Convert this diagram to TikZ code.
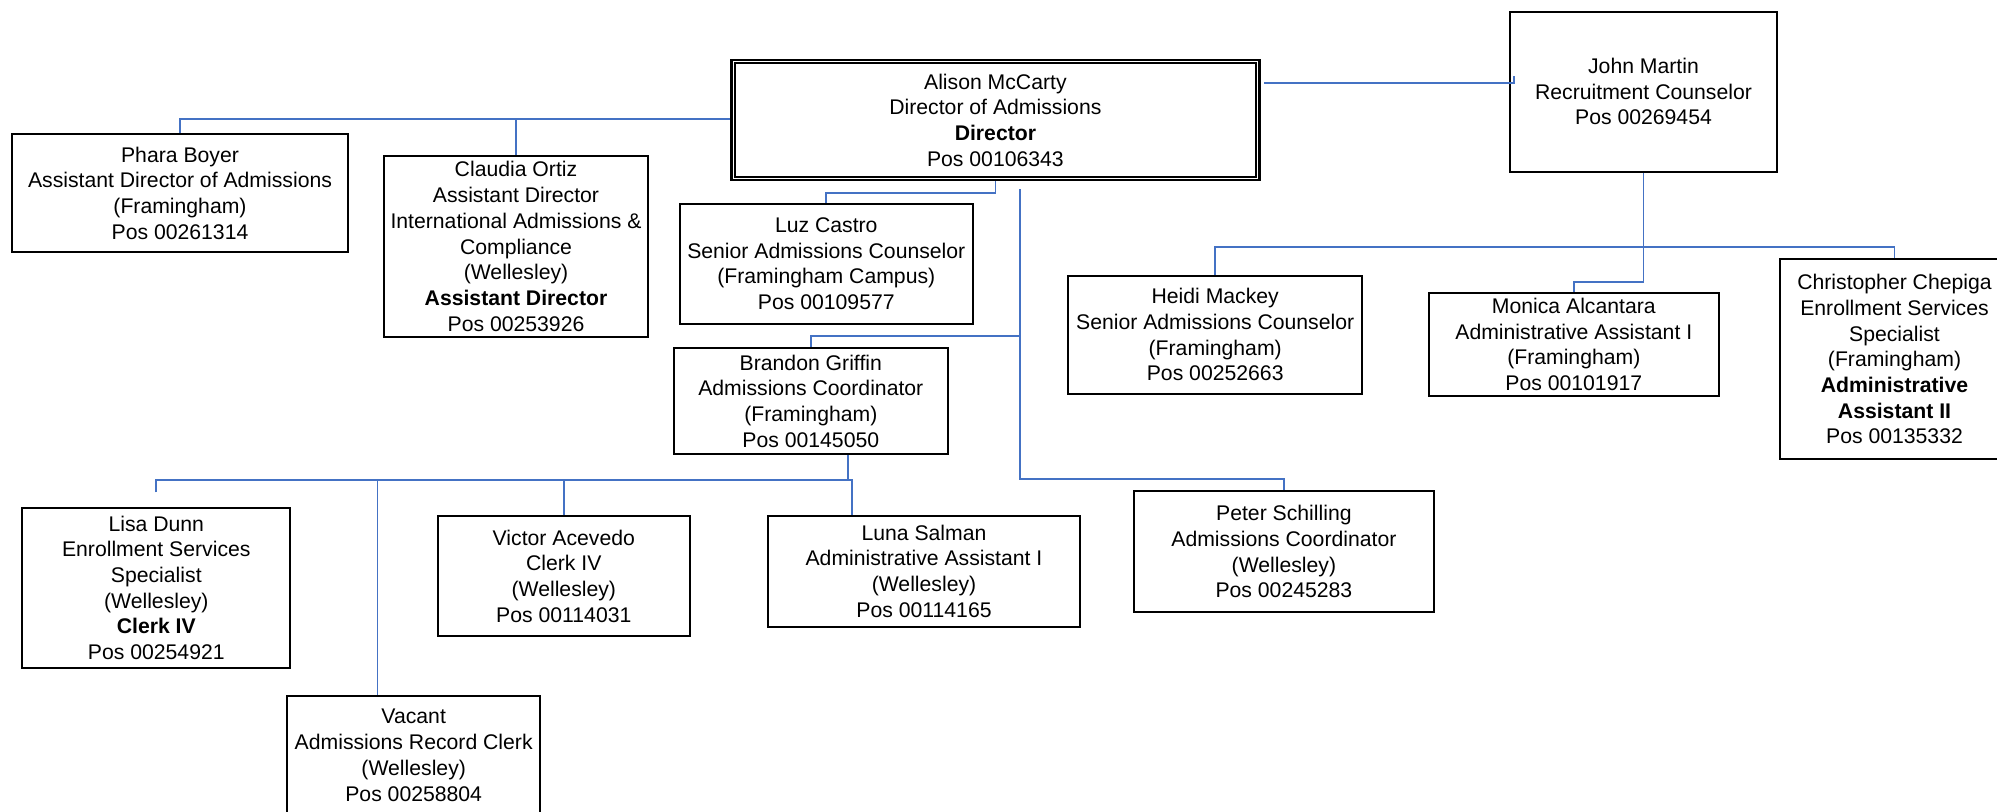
\documentclass[tikz,border=0pt]{standalone}
\usepackage{fontspec}
\setmainfont{Liberation Sans}
\definecolor{linkblue}{RGB}{68,114,196}
\begin{document}
\begin{tikzpicture}[x=0.5pt,y=-0.5pt,
  every node/.style={font=\fontsize{10.6}{12.85}\selectfont},
  posbox/.style n args={2}{draw=black, line width=1pt, rectangle, align=center,
    inner sep=0pt, minimum width=#1*0.5pt, minimum height=#2*0.5pt},
  link/.style={draw=linkblue, line width=0.85pt}]
\useasboundingbox (0,0) rectangle (1997,811);

% --- director and her direct reports ---
\node[posbox={528}{120}, line width=1.3pt] (alison) at (995.4,120)
  {Alison McCarty\\Director of Admissions\\\textbf{Director}\\Pos 00106343};
\draw[line width=0.9pt] ([shift={(4.5,4.5)}]alison.north west) rectangle ([shift={(-4.5,-4.5)}]alison.south east);

\node[posbox={336}{118}] (phara) at (180,193)
  {Phara Boyer\\Assistant Director of Admissions\\(Framingham)\\Pos 00261314};
\node[posbox={264}{181}] (claudia) at (516,246.5)
  {Claudia Ortiz\\Assistant Director\\International Admissions \&\\Compliance\\(Wellesley)\\\textbf{Assistant Director}\\Pos 00253926};
\node[posbox={292.6}{120}] (luz) at (826.3,263.7)
  {Luz Castro\\Senior Admissions Counselor\\(Framingham Campus)\\Pos 00109577};
\node[posbox={274.5}{106.6}] (brandon) at (810.8,401)
  {Brandon Griffin\\Admissions Coordinator\\(Framingham)\\Pos 00145050};
\node[posbox={300.8}{121}] (peter) at (1283.9,551.8)
  {Peter Schilling\\Admissions Coordinator\\(Wellesley)\\Pos 00245283};
\node[posbox={267}{160}] (john) at (1643.5,91.5)
  {John Martin\\Recruitment Counselor\\Pos 00269454};

% --- recruitment team ---
\node[posbox={294.4}{118}] (heidi) at (1215.2,334.7)
  {Heidi Mackey\\Senior Admissions Counselor\\(Framingham)\\Pos 00252663};
\node[posbox={290.4}{103.3}] (monica) at (1573.8,344.3)
  {Monica Alcantara\\Administrative Assistant I\\(Framingham)\\Pos 00101917};
\node[posbox={229}{199.7}] (chris) at (1894.5,359.2)
  {Christopher Chepiga\\Enrollment Services\\Specialist\\(Framingham)\\\textbf{Administrative}\\\textbf{Assistant II}\\Pos 00135332};

% --- coordinator's team ---
\node[posbox={268}{160.3}] (lisa) at (156.3,587.8)
  {Lisa Dunn\\Enrollment Services\\Specialist\\(Wellesley)\\\textbf{Clerk IV}\\Pos 00254921};
\node[posbox={252.5}{120}] (victor) at (563.8,576)
  {Victor Acevedo\\Clerk IV\\(Wellesley)\\Pos 00114031};
\node[posbox={312}{111}] (luna) at (924,571.2)
  {Luna Salman\\Administrative Assistant I\\(Wellesley)\\Pos 00114165};
\node[posbox={252.7}{119.3}] (vacant) at (413.7,755.3)
  {Vacant\\Admissions Record Clerk\\(Wellesley)\\Pos 00258804};

% --- connector anchor points ---
\coordinate (trunk) at (1020,189);
\coordinate (trunkend) at (1020,479.3);
\coordinate (bbar) at (1020,336);
\coordinate (aj1) at (1264,83.3);
\coordinate (aj2) at (1514,75.7);
\coordinate (jbar) at (1643.5,247.3);
\coordinate (bbus) at (848.2,480);
\coordinate (lunadrop) at (852,480);
\coordinate (vacdrop) at (377.6,480);
\coordinate (lisastub) at (156.3,492.3);

% --- connectors ---
\draw[link] (alison.west |- 0,119.3) -| (phara.north);
\draw[link] (claudia.north |- 0,119.3) -- (claudia.north);
\draw[link] (alison.south) -- ++(0,11.7) -| (luz.north);
\draw[link] (trunk) -- (trunkend) -| (peter.north);
\draw[link] (bbar) -| (brandon.north);
\draw[link] (aj1) -| (aj2);
\draw[link] (john.south) -- ++(0,109.4) -| (monica.north);
\draw[link] (heidi.north) -- (heidi.north |- jbar) -- (chris.north |- jbar) -- (chris.north);
\draw[link] (brandon.south -| bbus) -- (bbus);
\draw[link] (lisastub) -- (lisa.north |- bbus) -- (lunadrop) -- (luna.north -| lunadrop);
\draw[link] (vacdrop) -- (vacant.north -| vacdrop);
\draw[link] (victor.north |- bbus) -- (victor.north);
\end{tikzpicture}
\end{document}
